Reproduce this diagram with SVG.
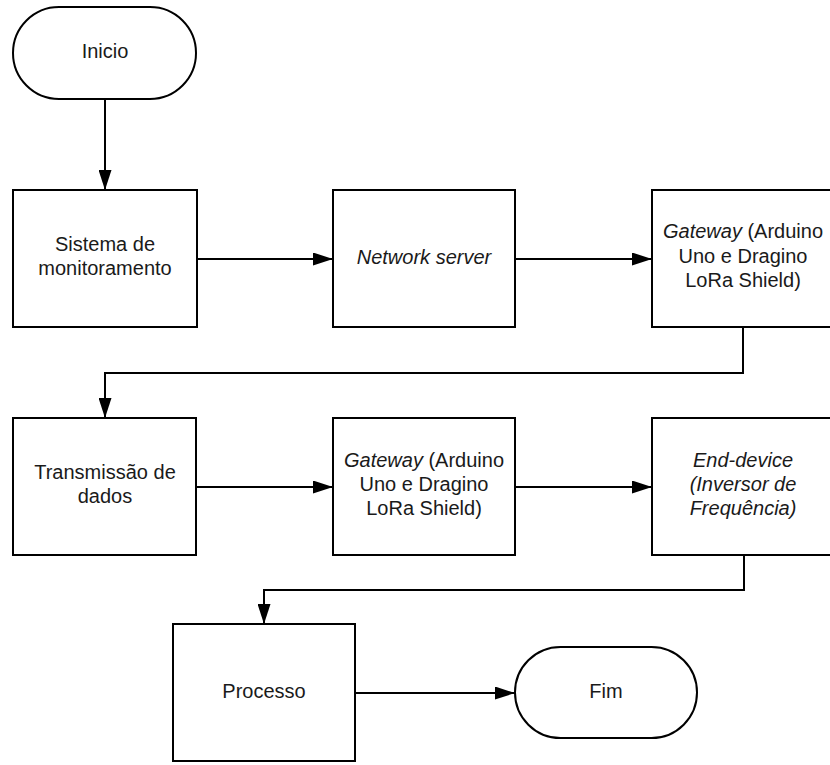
<svg xmlns="http://www.w3.org/2000/svg" width="830" height="765" viewBox="0 0 830 765">
<style>
.box{fill:#fff;stroke:#000;stroke-width:2}
.t{font-family:"Liberation Sans",Arial,sans-serif;font-size:20px;fill:#1a1a1a;text-anchor:middle}
.i{font-style:italic}
.c{fill:none;stroke:#000;stroke-width:2}
</style>
<defs>
<marker id="ah" markerUnits="userSpaceOnUse" markerWidth="20" markerHeight="13" refX="20" refY="6.5" orient="auto">
<path d="M0,0 L20,6.5 L0,13 z" fill="#000"/>
</marker>
</defs>
<rect width="830" height="765" fill="#fff"/>
<g id="inicio"><rect class="box" x="13" y="7" width="183" height="92" rx="46" ry="46"/><text class="t" x="105" y="58">Inicio</text></g>
<g id="sistema"><rect class="box" x="13" y="190" width="184" height="137"/><text class="t" x="105" y="251">Sistema de</text><text class="t" x="105" y="275">monitoramento</text></g>
<g id="network"><rect class="box" x="333" y="190" width="182" height="137"/><text class="t i" x="424" y="264">Network server</text></g>
<g id="gateway1"><rect class="box" x="652" y="190" width="183" height="137"/><text class="t" x="743" y="238"><tspan class="i">Gateway</tspan> (Arduino</text><text class="t" x="743" y="263">Uno e Dragino</text><text class="t" x="743" y="287">LoRa Shield)</text></g>
<g id="transmissao"><rect class="box" x="13" y="418" width="183" height="137"/><text class="t" x="105" y="479">Transmissão de</text><text class="t" x="105" y="503">dados</text></g>
<g id="gateway2"><rect class="box" x="333" y="418" width="182" height="137"/><text class="t" x="424" y="467"><tspan class="i">Gateway</tspan> (Arduino</text><text class="t" x="424" y="491">Uno e Dragino</text><text class="t" x="424" y="515">LoRa Shield)</text></g>
<g id="enddevice"><rect class="box" x="652" y="418" width="183" height="137"/><text class="t i" x="743" y="467">End-device</text><text class="t i" x="743" y="491">(Inversor de</text><text class="t i" x="743" y="515">Frequência)</text></g>
<g id="processo"><rect class="box" x="173" y="624" width="182" height="137"/><text class="t" x="264" y="698">Processo</text></g>
<g id="fim"><rect class="box" x="515" y="647" width="182" height="91" rx="45.5" ry="45.5"/><text class="t" x="606" y="698">Fim</text></g>
<g id="connectors">
<path class="c" d="M105 99 V190" marker-end="url(#ah)"/>
<path class="c" d="M197 259 H333" marker-end="url(#ah)"/>
<path class="c" d="M515 259 H652" marker-end="url(#ah)"/>
<path class="c" d="M743 327 V373 H105 V418" marker-end="url(#ah)"/>
<path class="c" d="M196 487 H333" marker-end="url(#ah)"/>
<path class="c" d="M515 487 H652" marker-end="url(#ah)"/>
<path class="c" d="M744 555 V590 H264 V624" marker-end="url(#ah)"/>
<path class="c" d="M355 693 H515" marker-end="url(#ah)"/>
</g>
</svg>
